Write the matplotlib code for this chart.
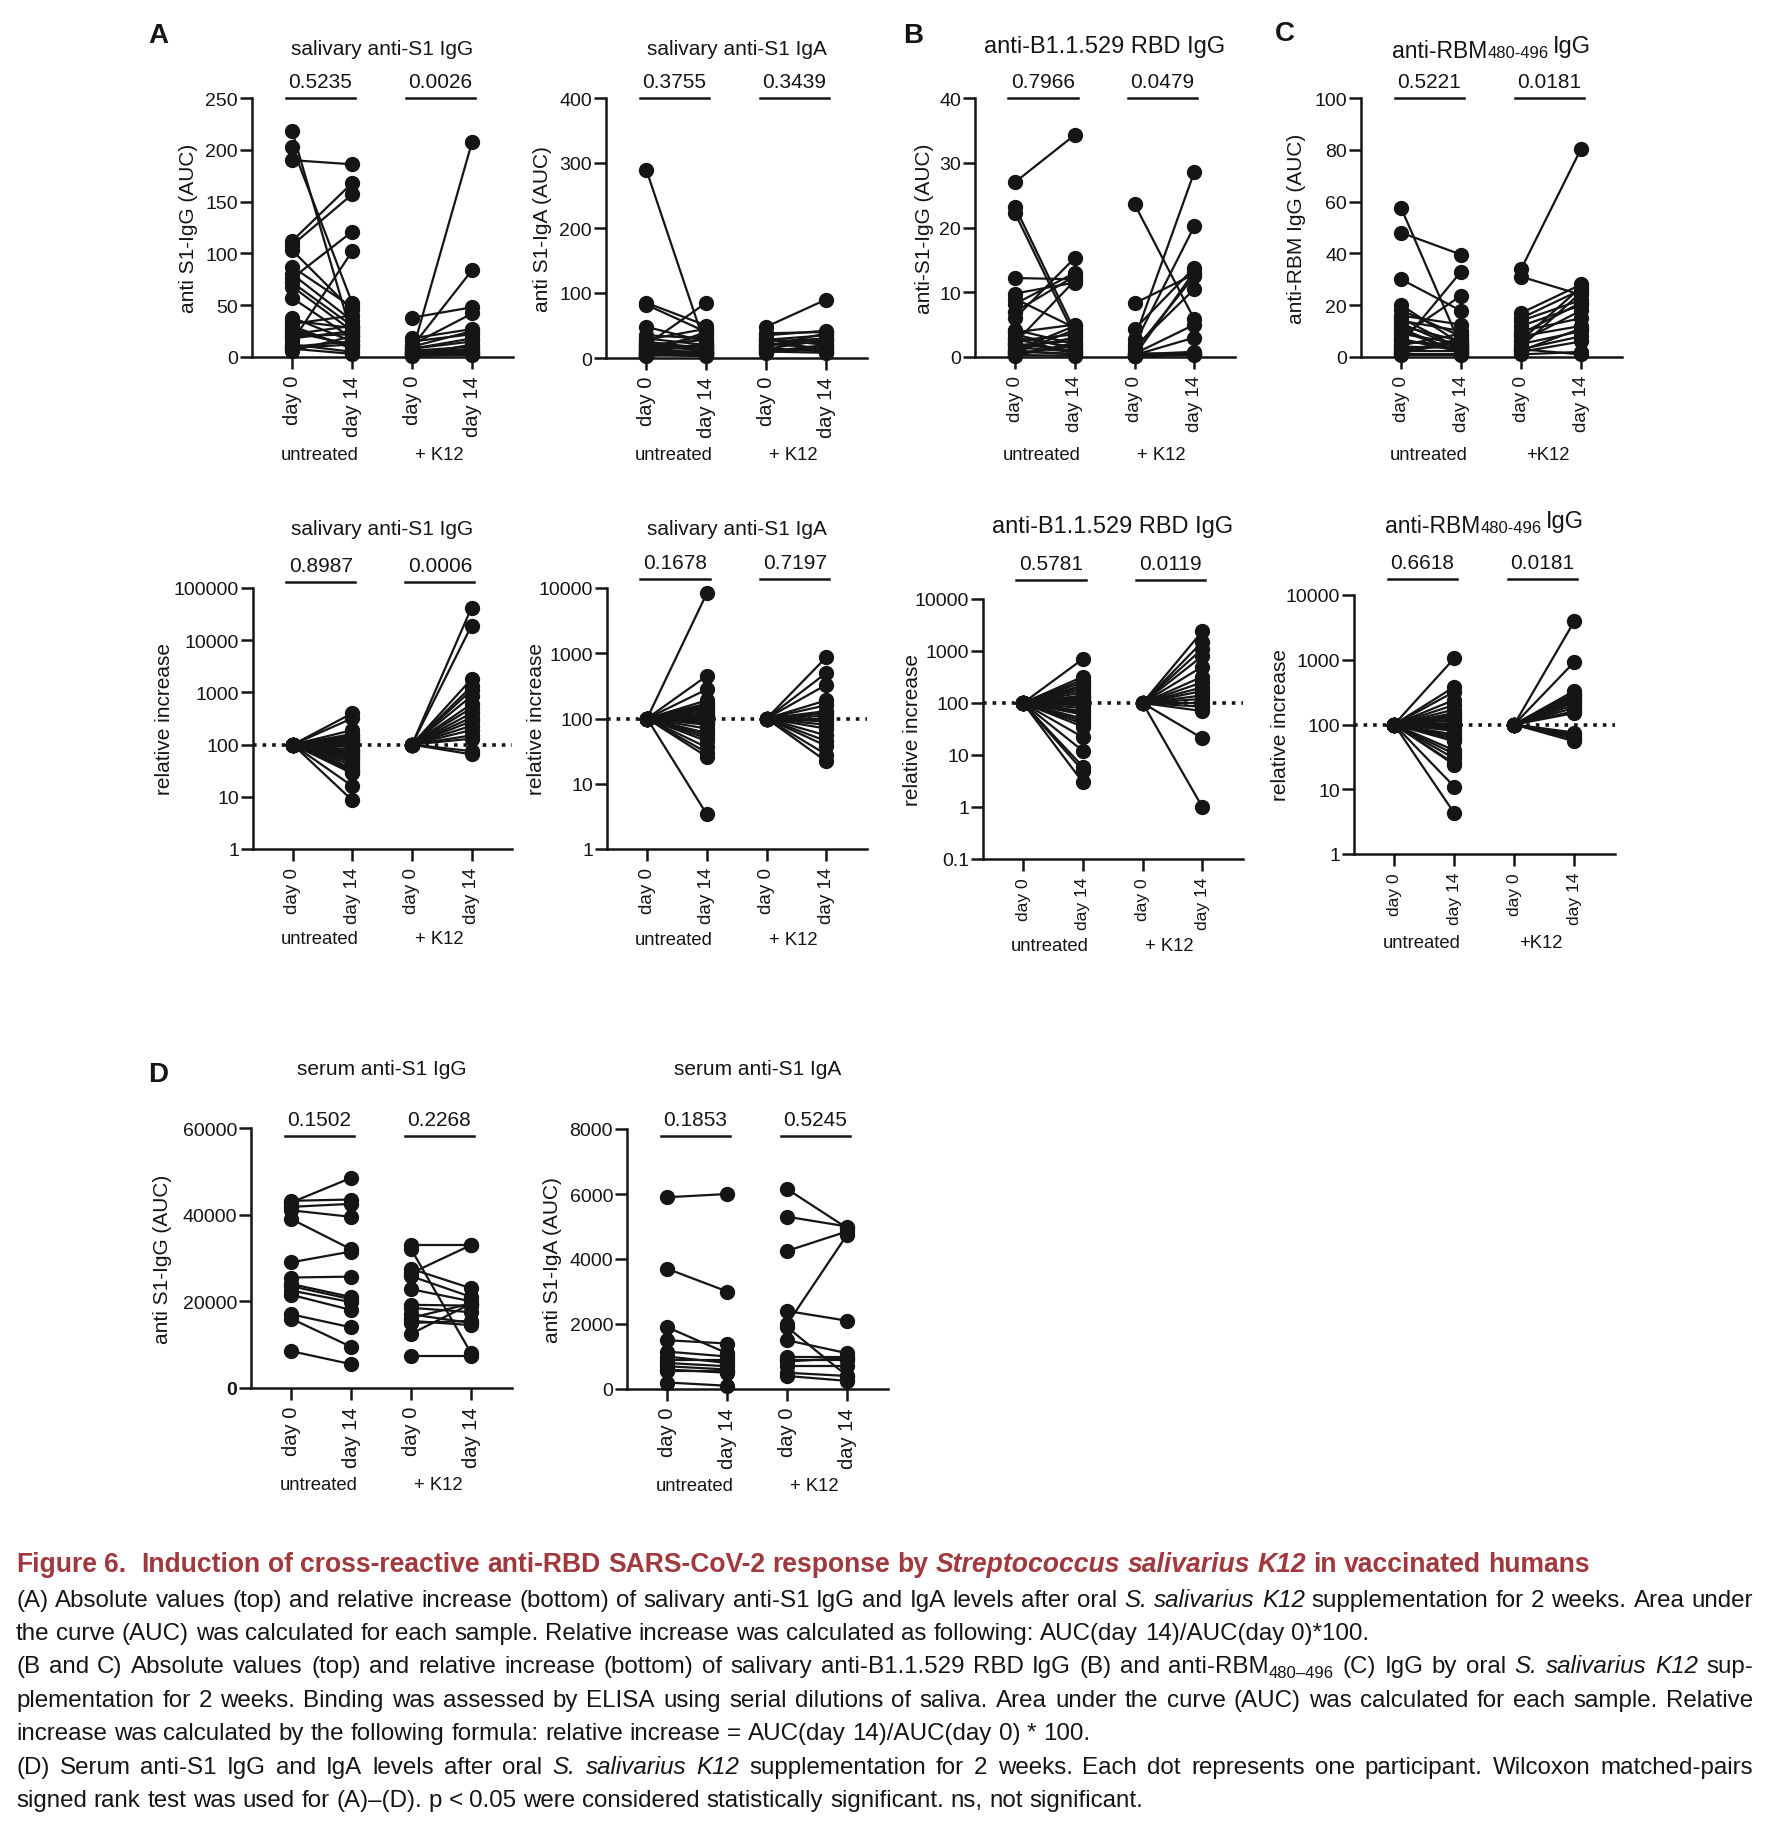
import matplotlib
matplotlib.use('Agg')
import matplotlib.pyplot as plt
from matplotlib.lines import Line2D
from matplotlib.ticker import NullLocator

plt.rcParams['font.family'] = ['Liberation Sans', 'DejaVu Sans']

W, H = 1766, 1824
INK = '#151515'
RED = '#a0393e'

# ---- data ----
day_labels = ['day 0', 'day 14', 'day 0', 'day 14']
BASE = 100  # relative increase: day 0 is the reference

# A top: salivary anti-S1 IgG (AUC)
sIgG_untr_d0 = [218, 203, 190, 112, 108, 103, 87, 80, 76, 72, 68, 57, 38, 35, 32, 27, 24, 20, 15, 12, 10, 8, 6, 30, 18, 9, 22]
sIgG_untr_d14 = [20, 52, 186, 168, 157, 45, 48, 35, 121, 30, 25, 18, 15, 28, 40, 10, 12, 22, 102, 5, 15, 3, 20, 8, 25, 12, 30]
sIgG_k12_d0 = [38, 5, 10, 12, 18, 15, 8, 6, 4, 3, 2, 2, 1, 8, 5, 3, 10]
sIgG_k12_d14 = [48, 208, 84, 42, 27, 22, 18, 10, 8, 5, 3, 12, 2, 15, 6, 4, 25]

# A top: salivary anti-S1 IgA (AUC)
sIgA_untr_d0 = [290, 85, 82, 48, 35, 30, 28, 25, 22, 20, 18, 15, 14, 12, 10, 10, 8, 8, 6, 5, 5, 4, 3, 15, 20, 12, 25]
sIgA_untr_d14 = [15, 50, 40, 25, 30, 20, 45, 10, 15, 85, 12, 35, 8, 18, 10, 22, 6, 40, 5, 12, 8, 3, 10, 20, 28, 5, 15]
sIgA_k12_d0 = [48, 38, 35, 30, 28, 25, 22, 20, 18, 15, 14, 12, 10, 10, 8, 30, 20]
sIgA_k12_d14 = [90, 40, 42, 20, 35, 30, 15, 25, 38, 10, 28, 12, 8, 20, 18, 10, 30]

# B top: anti-B1.1.529 RBD IgG (AUC)
rbd_untr_d0 = [27, 23.2, 22.2, 12.2, 9.8, 9.0, 8.2, 7.0, 6.0, 4.2, 3.8, 3.0, 2.5, 2.2, 2.0, 1.8, 1.5, 1.2, 1.0, 0.8, 0.5, 0.3, 0.2, 3.5, 1.0, 0.6, 2.8]
rbd_untr_d14 = [34.3, 4.0, 3.2, 12.0, 11.5, 4.5, 13.0, 12.5, 15.3, 2.0, 5.0, 1.5, 3.5, 11.8, 1.0, 2.5, 0.8, 3.0, 4.8, 0.5, 1.8, 0.2, 2.2, 1.2, 0.4, 4.2, 0.6]
rbd_k12_d0 = [23.6, 8.3, 4.3, 2.8, 2.0, 1.5, 1.0, 0.5, 0.3, 0.2, 0.1, 0.4, 0.2, 0.6, 0.1]
rbd_k12_d14 = [5.8, 12.8, 13.8, 28.6, 20.2, 10.5, 12.5, 5.0, 3.0, 0.5, 0.3, 0.8, 13.2, 0.4, 0.6]

# C top: anti-RBM480-496 IgG (AUC)
rbm_untr_d0 = [57.5, 48, 30, 20, 18, 16, 15, 14, 12, 10, 8, 6, 5, 4, 3, 2, 1, 2.5, 7, 11, 13, 4.5, 3.5, 1.5, 9, 0.8, 6.5]
rbm_untr_d14 = [4, 39.5, 17.8, 5, 8, 12.5, 3, 10, 6, 2, 23.7, 4.5, 33, 3.5, 5.5, 7, 1, 2.5, 2, 1.5, 3, 9, 4, 6, 5, 0.8, 2.8]
rbm_k12_d0 = [34, 31, 17, 15, 14, 12, 10, 8, 6, 5, 4, 3, 2, 1, 3, 2.5, 6.5, 9]
rbm_k12_d14 = [80.5, 24, 28, 26, 22, 20, 15, 12, 18, 10, 25, 8, 6, 2, 1, 11, 27, 21]

# relative increase at day 14 (day 0 = 100)
rel_sIgG_untr = [400, 320, 190, 160, 140, 125, 115, 105, 95, 90, 80, 75, 70, 65, 60, 55, 50, 45, 40, 35, 32, 30, 28, 16, 8.5, 130, 150]
rel_sIgG_k12 = [42000, 19000, 1800, 1300, 1100, 850, 600, 500, 400, 330, 280, 230, 190, 150, 130, 75, 65]
rel_sIgA_untr = [8300, 450, 280, 190, 170, 150, 140, 130, 120, 110, 100, 95, 90, 80, 70, 60, 55, 50, 45, 36, 30, 26, 3.4, 105, 115, 85, 160]
rel_sIgA_k12 = [870, 500, 330, 190, 160, 130, 110, 100, 90, 80, 55, 45, 38, 28, 22, 120, 70]
rel_rbd_untr = [700, 320, 280, 250, 220, 200, 180, 160, 140, 120, 110, 100, 90, 80, 70, 60, 50, 40, 35, 22, 12, 6, 5, 3, 45, 130, 65]
rel_rbd_k12 = [2400, 1500, 1100, 800, 500, 320, 250, 200, 170, 140, 120, 100, 85, 70, 21, 1.0]
rel_rbm_untr = [1050, 380, 320, 240, 200, 170, 150, 130, 115, 100, 90, 80, 70, 60, 55, 40, 35, 30, 25, 24, 11, 4.3, 105, 140, 65, 85, 120]
rel_rbm_k12 = [3900, 920, 330, 300, 290, 270, 250, 230, 220, 200, 180, 160, 150, 75, 70, 65, 60, 55]

# D: serum anti-S1 IgG / IgA (AUC)
serIgG_untr_d0 = [42800, 43200, 41800, 41000, 39000, 29000, 25500, 24000, 23500, 22500, 21500, 17000, 16000, 8500]
serIgG_untr_d14 = [48500, 43500, 42500, 39500, 32000, 31500, 25700, 21000, 20500, 19800, 18000, 14000, 9500, 5500]
serIgG_k12_d0 = [33000, 32000, 27500, 26500, 25800, 22800, 19200, 18500, 17000, 16200, 15500, 15000, 12500, 7500]
serIgG_k12_d14 = [33000, 8000, 23000, 33000, 21000, 20000, 19000, 17500, 15000, 19500, 14500, 15500, 19500, 7500]
serIgA_untr_d0 = [5900, 3700, 1900, 1500, 1150, 1000, 900, 800, 700, 600, 550, 200]
serIgA_untr_d14 = [6000, 3000, 1100, 1400, 1000, 800, 900, 700, 600, 500, 550, 100]
serIgA_k12_d0 = [6150, 5300, 4250, 2400, 2000, 1900, 1500, 1000, 900, 850, 700, 500, 400]
serIgA_k12_d14 = [4950, 5000, 4850, 2100, 4750, 400, 1100, 1000, 900, 950, 700, 400, 250]

fig = plt.figure(figsize=(W / 100, H / 100), dpi=100)
renderer = fig.canvas.get_renderer()
XL = (0.33, 4.68)


def px_text(x, y, s, **kw):
    return fig.text(x / W, 1 - y / H, s, **kw)


def text_w(s, **kw):
    t = fig.text(0, 0, s, **kw)
    w = t.get_window_extent(renderer).width
    t.remove()
    return w


def rich_line(x, y, parts, width=None, center=False):
    # parts: (string, style) ; style may hold 'dy' (pixels, upward)
    words = []
    for s, st in parts:
        st = dict(st)
        dy = st.pop('dy', 0)
        sp = text_w('x x', **st) - text_w('xx', **st)
        chunks = s.split(' ')
        for i, c in enumerate(chunks):
            w = text_w(c, **st) if c else 0
            words.append((c, st, dy, w, sp if i < len(chunks) - 1 else 0))
    natural = sum(w[3] + w[4] for w in words)
    n_sp = sum(1 for w in words if w[4] > 0)
    extra = (width - natural) / n_sp if (width and n_sp) else 0
    if center:
        x = x - natural / 2
    cx = x
    for c, st, dy, w, sp in words:
        if c:
            px_text(cx, y - dy, c, va='baseline', ha='left', **st)
        cx += w + (sp + extra if sp else 0)


def paired_panel(rect, untr, k12, yticks, ylabels, ylabel, ylabel_px,
                 title, title_off, pvals, bar_off, group_off,
                 groups=('untreated', '+ K12'), log=False, ref=None, daysize=14.5):
    left, top, right, bottom = rect
    ax = fig.add_axes([left / W, 1 - bottom / H, (right - left) / W, (bottom - top) / H])
    for x0, (a, b) in ((1, untr), (3, k12)):
        for v0, v1 in zip(a, b):
            ax.plot([x0, x0 + 1], [v0, v1], color=INK, lw=1.6, zorder=2)
        ax.plot([x0] * len(a), a, 'o', color=INK, ms=10, zorder=3, clip_on=False)
        ax.plot([x0 + 1] * len(b), b, 'o', color=INK, ms=10, zorder=3, clip_on=False)
    if log:
        ax.set_yscale('log')
    if ref is not None:
        ax.axhline(ref, ls=':', lw=2.6, color=INK, zorder=1)
    ax.set_ylim(yticks[0], yticks[-1])
    ax.set_yticks(yticks, ylabels)
    ax.yaxis.set_minor_locator(NullLocator())
    ax.set_xlim(*XL)
    ax.set_xticks([1, 2, 3, 4], day_labels, rotation=90)
    for s in ('top', 'right'):
        ax.spines[s].set_visible(False)
    for s in ('left', 'bottom'):
        ax.spines[s].set_linewidth(1.8)
        ax.spines[s].set_color(INK)
    ax.tick_params(axis='y', length=8.5, width=1.8, pad=1.5, labelsize=14, colors=INK)
    ax.tick_params(axis='x', length=8.5, width=1.8, pad=4.5, labelsize=daysize, colors=INK)
    ax.set_ylabel(ylabel, fontsize=15, va='center', color=INK)
    ax.yaxis.set_label_coords((ylabel_px - left) / (right - left), 0.5)

    def xpx(x):
        return left + (x - XL[0]) / (XL[1] - XL[0]) * (right - left)

    cx = (left + right) / 2
    if isinstance(title, str):
        size = 17 if 'B1.1' in title else 15
        px_text(cx, top - title_off, title, ha='center', va='baseline', fontsize=size, color=INK)
    else:
        rich_line(cx, top - title_off, title, center=True)
    yb = top - bar_off
    for c, p in zip((1.47, 3.47), pvals):
        fig.add_artist(Line2D([xpx(c - 0.58) / W, xpx(c + 0.58) / W], [1 - yb / H] * 2,
                              transform=fig.transFigure, color=INK, lw=1.8))
        px_text(xpx(c), yb - 11, p, ha='center', va='baseline', fontsize=15, color=INK)
    for c, g in zip((1.45, 3.45), groups):
        px_text(xpx(c), bottom + group_off, g, ha='center', va='center', fontsize=13.3, color=INK)
    return ax


rbm_title = [('anti-RBM', dict(fontsize=16.5, color=INK)),
             ('480-496 ', dict(fontsize=12, color=INK)),
             ('IgG', dict(fontsize=17, color=INK, dy=5))]

lin = lambda v: [str(t) for t in v]
log_lab = lambda v: ['0.1' if t < 1 else str(int(t)) for t in v]

# row 1
paired_panel((252, 99, 513, 358), (sIgG_untr_d0, sIgG_untr_d14), (sIgG_k12_d0, sIgG_k12_d14),
             [0, 50, 100, 150, 200, 250], lin([0, 50, 100, 150, 200, 250]), 'anti S1-IgG (AUC)', 188,
             'salivary anti-S1 IgG', 44, ('0.5235', '0.0026'), 0, 97)
paired_panel((606, 99, 867, 359), (sIgA_untr_d0, sIgA_untr_d14), (sIgA_k12_d0, sIgA_k12_d14),
             [0, 100, 200, 300, 400], lin([0, 100, 200, 300, 400]), 'anti S1-IgA (AUC)', 543,
             'salivary anti-S1 IgA', 44, ('0.3755', '0.3439'), 0, 97)
paired_panel((975, 99, 1235, 358), (rbd_untr_d0, rbd_untr_d14), (rbd_k12_d0, rbd_k12_d14),
             [0, 10, 20, 30, 40], lin([0, 10, 20, 30, 40]), 'anti-S1-IgG (AUC)', 924,
             'anti-B1.1.529 RBD IgG', 46, ('0.7966', '0.0479'), 0, 97, daysize=13.5)
paired_panel((1361, 99, 1622, 358), (rbm_untr_d0, rbm_untr_d14), (rbm_k12_d0, rbm_k12_d14),
             [0, 20, 40, 60, 80, 100], lin([0, 20, 40, 60, 80, 100]), 'anti-RBM IgG (AUC)', 1297,
             rbm_title, 41, ('0.5221', '0.0181'), 0, 97, groups=('untreated', '+K12'), daysize=13.5)

# row 2: relative increase
t5 = [1, 10, 100, 1000, 10000, 100000]
t4 = [1, 10, 100, 1000, 10000]
t4b = [0.1, 1, 10, 100, 1000, 10000]
paired_panel((253, 589, 512, 850), ([BASE] * len(rel_sIgG_untr), rel_sIgG_untr),
             ([BASE] * len(rel_sIgG_k12), rel_sIgG_k12), t5, log_lab(t5), 'relative increase', 165,
             'salivary anti-S1 IgG', 54, ('0.8987', '0.0006'), 6, 90, log=True, ref=BASE, daysize=13.5)
paired_panel((607, 589, 867, 850), ([BASE] * len(rel_sIgA_untr), rel_sIgA_untr),
             ([BASE] * len(rel_sIgA_k12), rel_sIgA_k12), t4, log_lab(t4), 'relative increase', 536,
             'salivary anti-S1 IgA', 54, ('0.1678', '0.7197'), 9, 91, log=True, ref=BASE, daysize=13.5)
paired_panel((983, 600, 1243, 860), ([BASE] * len(rel_rbd_untr), rel_rbd_untr),
             ([BASE] * len(rel_rbd_k12), rel_rbd_k12), t4b, log_lab(t4b), 'relative increase', 912,
             'anti-B1.1.529 RBD IgG', 67, ('0.5781', '0.0119'), 19, 87, log=True, ref=BASE, daysize=12.5)
paired_panel((1354, 596, 1615, 855), ([BASE] * len(rel_rbm_untr), rel_rbm_untr),
             ([BASE] * len(rel_rbm_k12), rel_rbm_k12), t4, log_lab(t4), 'relative increase', 1280,
             rbm_title, 63, ('0.6618', '0.0181'), 16, 89, groups=('untreated', '+K12'), log=True, ref=BASE,
             daysize=12.5)

# row 3: serum
axd = paired_panel((251, 1129, 512, 1389), (serIgG_untr_d0, serIgG_untr_d14), (serIgG_k12_d0, serIgG_k12_d14),
                   [0, 20000, 40000, 60000], lin([0, 20000, 40000, 60000]), 'anti S1-IgG (AUC)', 163,
                   'serum anti-S1 IgG', 54, ('0.1502', '0.2268'), -8, 97)
axd.get_yticklabels()[0].set_fontweight('bold')
paired_panel((627, 1130, 888, 1390), (serIgA_untr_d0, serIgA_untr_d14), (serIgA_k12_d0, serIgA_k12_d14),
             [0, 2000, 4000, 6000, 8000], lin([0, 2000, 4000, 6000, 8000]), 'anti S1-IgA (AUC)', 552,
             'serum anti-S1 IgA', 55, ('0.1853', '0.5245'), -7, 97)

# panel letters
for letter, x, y in (('A', 148, 43), ('B', 903, 43), ('C', 1275, 41), ('D', 148, 1082)):
    px_text(x, y, letter, fontsize=20, fontweight='bold', va='baseline', color=INK)

# caption
reg = dict(fontsize=17.4, color=INK)
ita = dict(fontsize=17.4, color=INK, style='italic')
sub = dict(fontsize=12, color=INK, dy=-5)
tb = dict(fontsize=19.1, color=RED, fontweight='bold')
tbi = dict(fontsize=19.1, color=RED, fontweight='bold', style='italic')
CL, CW = 16, 1737
caption = [
    ([('Figure 6.  Induction of cross-reactive anti-RBD SARS-CoV-2 response by ', tb),
      ('Streptococcus salivarius K12', tbi), (' in vaccinated humans', tb)], False),
    ([('(A) Absolute values (top) and relative increase (bottom) of salivary anti-S1 IgG and IgA levels after oral ', reg),
      ('S. salivarius K12', ita), (' supplementation for 2 weeks. Area under', reg)], True),
    ([('the curve (AUC) was calculated for each sample. Relative increase was calculated as following: AUC(day 14)/AUC(day 0)*100.', reg)], False),
    ([('(B and C) Absolute values (top) and relative increase (bottom) of salivary anti-B1.1.529 RBD IgG (B) and anti-RBM', reg),
      ('480\u2013496', sub), (' (C) IgG by oral ', reg), ('S. salivarius K12', ita), (' sup-', reg)], True),
    ([('plementation for 2 weeks. Binding was assessed by ELISA using serial dilutions of saliva. Area under the curve (AUC) was calculated for each sample. Relative', reg)], True),
    ([('increase was calculated by the following formula: relative increase = AUC(day 14)/AUC(day 0) * 100.', reg)], False),
    ([('(D) Serum anti-S1 IgG and IgA levels after oral ', reg), ('S. salivarius K12', ita),
      (' supplementation for 2 weeks. Each dot represents one participant. Wilcoxon matched-pairs', reg)], True),
    ([('signed rank test was used for (A)\u2013(D). p < 0.05 were considered statistically significant. ns, not significant.', reg)], False),
]
baselines = [1572, 1607, 1640, 1673, 1707, 1740, 1774, 1807]
for (parts, just), yb in zip(caption, baselines):
    rich_line(CL, yb, parts, width=CW if just else None)

fig.savefig('out.png', dpi=100)
